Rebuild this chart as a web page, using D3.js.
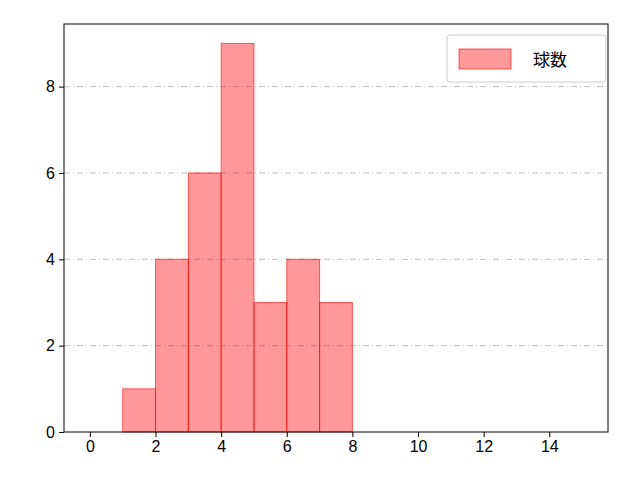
<!DOCTYPE html>
<html>
<head>
<meta charset="utf-8">
<style>
  body { margin: 0; background: #fff; }
  svg { font-family: "Noto Sans CJK JP", "DejaVu Sans", sans-serif; }
  .tick text { font-size: 16px; fill: #000; }
  .grid line { stroke: #b0b0b0; stroke-dasharray: 6 3 1 3; stroke-width: 0.8; }
</style>
</head>
<body>
<svg width="640" height="480"></svg>
<script src="https://d3js.org/d3.v7.min.js"></script>
<script>
// histogram bins and counts
let binStarts = [1, 2, 3, 4, 5, 6, 7];
let counts = [1, 4, 6, 9, 3, 4, 3];
let xTicks = [0, 2, 4, 6, 8, 10, 12, 14];
let yTicks = [0, 2, 4, 6, 8];
let seriesName = "球数";

let margin = { top: 24, right: 32, bottom: 48, left: 64 };
let width = 640, height = 480;
let svg = d3.select("svg");

let x = d3.scaleLinear().domain([-0.79, 15.79]).range([margin.left, width - margin.right]);
let y = d3.scaleLinear().domain([0, 9.45]).range([height - margin.bottom, margin.top]);

// grid
svg.append("g").attr("class", "grid")
  .selectAll("line").data(yTicks.filter(d => d > 0)).join("line")
  .attr("x1", margin.left).attr("x2", width - margin.right)
  .attr("y1", d => y(d)).attr("y2", d => y(d));

// bars
svg.append("g").selectAll("rect").data(binStarts).join("rect")
  .attr("x", d => x(d))
  .attr("width", d => x(d + 1) - x(d))
  .attr("y", (d, i) => y(counts[i]))
  .attr("height", (d, i) => y(0) - y(counts[i]))
  .style("fill", "rgba(255,0,0,0.4)")
  .style("stroke", "rgba(255,0,0,0.6)")
  .style("stroke-width", 1);

// axes
svg.append("g")
  .attr("transform", `translate(0,${height - margin.bottom})`)
  .call(d3.axisBottom(x).tickValues(xTicks).tickSize(5).tickPadding(4).tickSizeOuter(0))
  .call(g => g.select(".domain").remove());
svg.append("g")
  .attr("transform", `translate(${margin.left},0)`)
  .call(d3.axisLeft(y).tickValues(yTicks).tickSize(5).tickPadding(4).tickSizeOuter(0))
  .call(g => g.select(".domain").remove());

// frame
svg.append("rect")
  .attr("x", margin.left).attr("y", margin.top)
  .attr("width", width - margin.left - margin.right)
  .attr("height", height - margin.top - margin.bottom)
  .style("fill", "none").style("stroke", "#000").style("stroke-width", 1);

// legend
let lg = svg.append("g");
lg.append("rect").attr("x", 447).attr("y", 35).attr("width", 159).attr("height", 47).attr("rx", 3)
  .style("fill", "#fff").style("stroke", "#ccc");
lg.append("rect").attr("x", 459).attr("y", 49).attr("width", 52).attr("height", 20)
  .style("fill", "rgba(255,0,0,0.4)").style("stroke", "rgba(255,0,0,0.6)");
lg.append("text").attr("x", 533).attr("y", 66).style("font-size", "17px").text(seriesName);
</script>
</body>
</html>
